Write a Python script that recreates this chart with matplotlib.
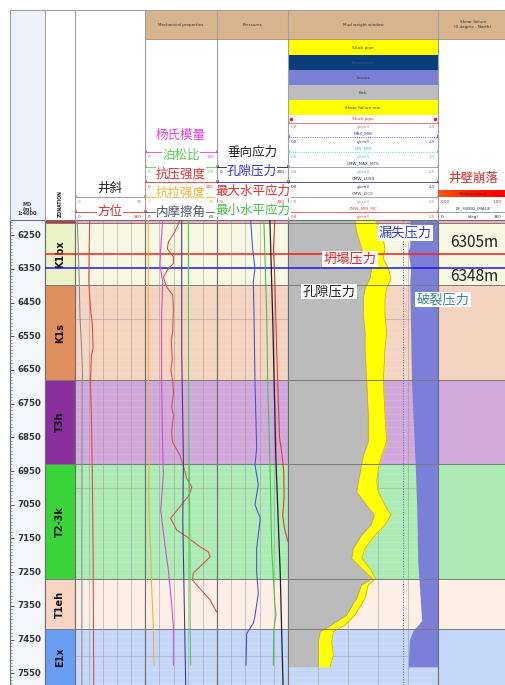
import numpy as np
import matplotlib
matplotlib.use('Agg')
import matplotlib.pyplot as plt
from matplotlib.patches import Rectangle
from matplotlib.colors import LinearSegmentedColormap

plt.rcParams['font.family'] = ['Noto Sans CJK SC', 'DejaVu Sans']

# ---------------- data ----------------
DEPTH_TOP, DEPTH_BOTTOM = 6205, 7585
depth_ticks = [6250, 6350, 6450, 6550, 6650, 6750, 6850, 6950, 7050, 7150, 7250, 7350, 7450, 7550]

zone_names = ['', 'K1bx', 'K1s', 'T3h', 'T2-3k', 'T1eh', 'E1x']
zone_tops = [6205, 6213, 6398, 6680, 6930, 7271, 7419]
zone_bottoms = [6213, 6398, 6680, 6930, 7271, 7419, 7585]
zone_colors = ['#c8344c', '#eaf2c6', '#e0905e', '#8a2e9e', '#38d438', '#f8d4c2', '#6a9ef2']
zone_track_colors = ['#eeb0c0', '#f6f8e2', '#f4d3c0', '#d0a8da', '#aceab6', '#fdeee6', '#c4d7f8']

marker_depths = [6305, 6348]
marker_colors = ['#ff1a1a', '#1a1aee']
marker_labels = ['6305m', '6348m']

# track 1 : trajectory
inc_depth = [6205, 6290, 6388, 6487, 6586, 6665, 6700, 6883, 7180, 7585]
inc_deg = [2.9, 4.2, 5.5, 6.3, 8.5, 9.7, 9.2, 9.0, 8.9, 8.9]
azi_depth = [6205, 6290, 6388, 6468, 6517, 6586, 6606, 6685, 6784, 6982, 7180, 7585]
azi_deg = [76.0, 72.7, 71.0, 79.4, 89.5, 92.9, 84.5, 79.4, 84.5, 89.5, 92.9, 96.3]

# track 2 : mechanical properties
ym_depth = [6205, 6290, 6339, 6388, 6487, 6685, 6883, 6960, 7066, 7165, 7244, 7343, 7412, 7526]
ym_gpa = [24.5, 21.8, 20.8, 24.5, 23.1, 23.1, 24.5, 25.5, 21.8, 27.5, 32.4, 37.0, 39.4, 39.4]
pr_depth = [6205, 6700, 6982, 7180, 7377, 7526]
pr_val = [0.301, 0.303, 0.308, 0.312, 0.313, 0.317]
ucs_depth = [6205, 6240, 6270, 6290, 6314, 6334, 6349, 6374, 6403, 6428,
             6468, 6500, 6537, 6560, 6586, 6620, 6650, 6685, 6720, 6760,
             6784, 6833, 6863, 6903, 6932, 6972, 6997, 7021, 7056, 7090,
             7125, 7145, 7175, 7190, 7205, 7224, 7253, 7274, 7304, 7333, 7368]
ucs_mpa = [97, 83, 65, 62, 79, 79, 65, 51, 60, 77,
           79, 78, 77, 73, 74, 76, 72, 77, 79, 74,
           79, 74, 76, 97, 106, 116, 130, 123, 97, 71,
           88, 116, 153, 176, 181, 162, 134, 132, 157, 181, 199]
ts_depth = [6205, 6685, 6918, 7000, 7090, 7190, 7290, 7410, 7526]
ts_mpa = [2.3, 2.3, 3.0, 2.4, 3.0, 3.9, 4.6, 5.8, 6.25]
fa_depth = [6205, 6600, 6918, 7100, 7300, 7585]
fa_deg = [30.6, 30.6, 32.0, 31.5, 32.5, 33.9]

# track 3 : pressures / stresses (MPa)
sv_depth = [6205, 6500, 6918, 7250, 7585]
sv_mpa = [149, 157, 166, 178, 186]
pp_depth = [6205, 6290, 6349, 6388, 6487, 6685, 6883, 6932, 6990, 7050, 7090, 7180,
            7250, 7313, 7380, 7402, 7432, 7526]
pp_mpa = [94.8, 100.5, 107, 102.3, 104.2, 107, 111.7, 107, 116.4, 107, 122, 111.7,
          111.7, 116.4, 107, 102.3, 83.6, 81.7]
shmax_depth = [6205, 6290, 6388, 6586, 6850, 6900, 6950, 7031, 7081, 7120, 7160]
shmax_mpa = [163, 159, 163, 168, 176, 183, 188, 189, 185, 190, 200]
shmin_depth = [6205, 6487, 6700, 6918, 7180, 7343, 7377, 7420, 7526]
shmin_mpa = [132, 140, 143, 149, 154, 163, 166, 160, 158.7]

# track 4 : mud weight window (g/cm3)
mw_depth = [6205, 6240, 6290, 6319, 6349, 6379, 6408, 6438, 6487, 6537,
            6586, 6685, 6784, 6863, 6903, 6942, 6982, 7012, 7051, 7081,
            7110, 7140, 7180, 7209, 7239, 7269, 7288, 7328, 7377, 7407,
            7427, 7457, 7496, 7531]
kick_sg = [1.559, 1.578, 1.635, 1.692, 1.748, 1.729, 1.673, 1.654, 1.654, 1.673,
           1.673, 1.692, 1.710, 1.710, 1.654, 1.627, 1.597, 1.578, 1.692, 1.778,
           1.741, 1.635, 1.540, 1.522, 1.635, 1.756, 1.635, 1.578, 1.465, 1.295,
           1.163, 1.144, 1.144, 1.144]
collapse_sg = [1.786, 1.862, 1.899, 1.880, 1.937, 1.967, 1.918, 1.899, 1.899, 1.918,
               1.899, 1.880, 1.899, 1.918, 1.862, 1.824, 1.805, 1.824, 1.899, 1.967,
               1.899, 1.786, 1.673, 1.635, 1.729, 1.794, 1.710, 1.673, 1.559, 1.446,
               1.314, 1.295, 1.314, 1.276]
frac_depth = [6205, 6285, 6295, 6349, 6388, 6685, 6918, 7066, 7214, 7393, 7408, 7422, 7452, 7531]
frac_sg = [2.18, 2.18, 2.16, 2.19, 2.18, 2.20, 2.24, 2.26, 2.27, 2.315, 2.27, 2.22, 2.175, 2.163]
max_mw_sg = 2.10
MW_LO, MW_HI = 0.8, 2.5

# ---------------- layout ----------------
W, H = 505, 685
fig = plt.figure(figsize=(W / 100, H / 100), dpi=100)
HDR_TOP, DATA_TOP = 10, 220
X_DEPTH, X_ZONE, X_T1, X_T2, X_T3, X_T4, X_T5, X_END = 10, 45, 75, 145, 217, 288, 438, 505
BORDER = '#6e6e6e'


def add_px_axes(x0, x1, y0, y1, **kw):
    return fig.add_axes([x0 / W, 1 - y1 / H, (x1 - x0) / W, (y1 - y0) / H], **kw)


def base_axes(ax, xlim=(0, 1)):
    ax.set_xlim(*xlim)
    ax.set_ylim(DEPTH_BOTTOM, DEPTH_TOP)
    ax.set_xticks([])
    ax.set_yticks([])
    for s in ['left', 'right', 'top']:
        ax.spines[s].set_color(BORDER)
        ax.spines[s].set_linewidth(0.8)
    ax.spines['bottom'].set_visible(False)


def setup_track(ax, xlim=(0, 1), grid=True):
    base_axes(ax, xlim)
    for t, b, c in zip(zone_tops, zone_bottoms, zone_track_colors):
        ax.axhspan(t, b, color=c, lw=0, zorder=0)
    if grid:
        for d in np.arange(6220, DEPTH_BOTTOM, 20):
            ax.axhline(d, color='white', lw=0.4, alpha=0.22, zorder=1)
        for xg in np.linspace(xlim[0], xlim[1], 6)[1:-1]:
            ax.axvline(xg, color='#8c8c8c', lw=0.5, alpha=0.6, zorder=1)
        for d in [6500, 7000, 7500]:
            ax.axhline(d, color='#9a9a9a', lw=0.5, alpha=0.7, zorder=1)
    for t in zone_tops[1:]:
        ax.axhline(t, color='#7a7a7a', lw=0.7, zorder=4)
    for d, c in zip(marker_depths, marker_colors):
        ax.axhline(d, color=c, lw=1.1, zorder=6)


def curve(ax, values, depths, lo, hi, color, lw=0.75):
    a = ax.twiny()
    a.set_xlim(lo, hi)
    a.axis('off')
    a.plot(values, depths, color=color, lw=lw)
    return a


# depth track
axd = add_px_axes(X_DEPTH, X_ZONE, DATA_TOP, H)
base_axes(axd)
axd.set_facecolor('#f3f6fb')
axd.hlines(np.arange(6210, DEPTH_BOTTOM, 10), 0, 0.06, color='#555555', lw=0.4)
axd.hlines(depth_ticks, 0, 0.12, color='#444444', lw=0.6)
for d in depth_ticks:
    axd.text(0.55, d, str(d), ha='center', va='center', fontsize=6.2,
             weight='bold', color='#333333', family='DejaVu Sans')

# zonation track
axz = add_px_axes(X_ZONE, X_T1, DATA_TOP, H)
base_axes(axz)
for n, t, b, c in zip(zone_names, zone_tops, zone_bottoms, zone_colors):
    axz.axhspan(t, b, color=c, lw=0, zorder=0)
    if n:
        axz.text(0.5, (t + b) / 2, n, rotation=90, ha='center', va='center',
                 fontsize=7, weight='bold', color='#111111', family='DejaVu Sans')
for t in zone_tops[1:]:
    axz.axhline(t, color='#7a7a7a', lw=0.7, zorder=4)
for d, c in zip(marker_depths, marker_colors):
    axz.axhline(d, color=c, lw=1.1, zorder=6)

# track 1
ax1 = add_px_axes(X_T1, X_T2, DATA_TOP, H)
setup_track(ax1)
curve(ax1, inc_deg, inc_depth, 0, 90, '#8a8a8a')
curve(ax1, azi_deg, azi_depth, 0, 360, '#e84040')

# track 2
ax2 = add_px_axes(X_T2, X_T3, DATA_TOP, H)
setup_track(ax2)
curve(ax2, ts_mpa, ts_depth, 0, 50, '#f0b030')
curve(ax2, ym_gpa, ym_depth, 0, 100, '#e040e0')
curve(ax2, ucs_mpa, ucs_depth, 0, 200, '#d85040')
curve(ax2, fa_deg, fa_depth, 0, 60, '#3a3a7a')
curve(ax2, pr_val, pr_depth, 0, 0.5, '#40d040')

# track 3
ax3 = add_px_axes(X_T3, X_T4, DATA_TOP, H)
setup_track(ax3)
curve(ax3, pp_mpa, pp_depth, 0, 200, '#4a4ad8')
curve(ax3, shmin_mpa, shmin_depth, 0, 200, '#40c040')
curve(ax3, sv_mpa, sv_depth, 0, 200, '#222222', lw=0.9)
curve(ax3, shmax_mpa, shmax_depth, 0, 200, '#e83030')

# track 4 : mud weight window
ax4 = add_px_axes(X_T4, X_T5, DATA_TOP, H)
setup_track(ax4, xlim=(MW_LO, MW_HI))
ax4.fill_betweenx(mw_depth, MW_LO, kick_sg, color='#bbbbbb', lw=0, zorder=2)
ax4.fill_betweenx(mw_depth, kick_sg, collapse_sg, color='#ffff00', lw=0, zorder=2)
ax4.plot(kick_sg, mw_depth, color='#c8a040', lw=0.5, zorder=3)
ax4.plot(collapse_sg, mw_depth, color='#c8a040', lw=0.5, zorder=3)
ax4.fill_betweenx(frac_depth, frac_sg, MW_HI, color='#7b7fd8', lw=0, zorder=2)
ax4.axvline(max_mw_sg, color='#6060d0', lw=0.7, ls=':', zorder=3)

# track 5 : shear failure
ax5 = add_px_axes(X_T5, X_END, DATA_TOP, H)
setup_track(ax5, grid=False)
ax5.spines['right'].set_visible(False)
for d, lab, off in zip(marker_depths, marker_labels, [8.3, -5.8]):
    ax5.annotate(lab, xy=(0.54, d), xycoords=('axes fraction', 'data'),
                 xytext=(0, off), textcoords='offset points', ha='center', va='center',
                 fontsize=11, color='#222222', zorder=10)

# ---------------- header (overlay, pixel coordinates) ----------------
ov = fig.add_axes([0, 0, 1, 1], zorder=20)
ov.patch.set_alpha(0)
ov.axis('off')

ov.add_patch(Rectangle((X_DEPTH, HDR_TOP), X_ZONE - X_DEPTH, DATA_TOP - HDR_TOP, fc='#edf2f9', ec='none'))
ov.add_patch(Rectangle((X_T2, HDR_TOP), X_END - X_T2, 29, fc='#d8b48c', ec='none'))
for x in [X_DEPTH, X_ZONE, X_T1, X_T2, X_T3, X_T4, X_T5]:
    ov.plot([x, x], [HDR_TOP, DATA_TOP], color='#a0a0a0', lw=0.8)
ov.plot([X_DEPTH, X_END], [HDR_TOP, HDR_TOP], color='#a0a0a0', lw=0.8)
ov.plot([X_T2, X_END], [39, 39], color='#a08a70', lw=0.6)

tiny = dict(fontsize=3, color='#333333', family='DejaVu Sans', ha='center', va='center')
ov.text(181, 24.5, 'Mechanical properties', **tiny)
ov.text(252.5, 24.5, 'Pressures', **tiny)
ov.text(363, 24.5, 'Mud weight window', **tiny)
ov.text(473, 24.5, 'Shear failure\n(0 degree - North)', linespacing=1.1, **tiny)
ov.text(27.5, 209, 'MD\n(m)\n1:4000', fontsize=3.6, weight='bold', color='#333333',
        family='DejaVu Sans', ha='center', va='center', linespacing=0.95)
ov.text(60, 204, 'ZONATION', rotation=90, fontsize=3.3, weight='bold', color='#222222',
        family='DejaVu Sans', ha='center', va='center')

# mud weight legend boxes
legend_boxes = [('Stuck pipe', '#ffff00', '#444444'), ('Breakdown', '#0b3d7a', '#3a5a90'),
                ('Losses', '#7b80d4', '#333333'), ('Kick', '#bdbdbd', '#333333'),
                ('Shear failure min', '#ffff00', '#444444')]
for i, (name, fc, tc) in enumerate(legend_boxes):
    y0 = 40 + 15 * i
    ov.add_patch(Rectangle((X_T4, y0), X_T5 - X_T4, 15, fc=fc, ec='none'))
    ov.text(363, y0 + 7.5, name, fontsize=3, color=tc, family='DejaVu Sans', ha='center', va='center')


def header_row(x0, x1, y, color, lo, hi, name=None, ls='-', unit=None, name_color=None, show_vals=True):
    ov.plot([x0, x1], [y, y], color=color, lw=0.6, ls=ls)
    ov.plot([x0 + 1, x0 + 1], [y - 2, y], color=color, lw=0.5)
    ov.plot([x1 - 1, x1 - 1], [y - 2, y], color=color, lw=0.5)
    if show_vals:
        ov.text(x0 + 3, y + 4.5, lo, fontsize=3, color=color, family='DejaVu Sans', ha='left', va='center')
        ov.text(x1 - 3, y + 4.5, hi, fontsize=3, color=color, family='DejaVu Sans', ha='right', va='center')
        if unit:
            ov.text((x0 + x1) / 2, y + 4.5, unit, fontsize=3, color=color, family='DejaVu Sans', ha='center', va='center')
    if name:
        ov.text((x0 + x1) / 2, y - 3.5, name, fontsize=3, color=name_color or color,
                family='DejaVu Sans', ha='center', va='center')


# track 1 rows
header_row(X_T1, X_T2, 197, '#909090', '0', '90')
header_row(X_T1, X_T2, 212, '#e03030', '0', '360')
# track 2 rows
header_row(X_T2, X_T3, 152, '#e040e0', '0', '100')
header_row(X_T2, X_T3, 167, '#50d050', '0', '0.5')
header_row(X_T2, X_T3, 182, '#e03030', '0', '200')
header_row(X_T2, X_T3, 197, '#f0b030', '0', '50')
header_row(X_T2, X_T3, 212, '#505070', '0', '60')
# track 3 rows
header_row(X_T3, X_T4, 167, '#222222', '0', '200')
header_row(X_T3, X_T4, 182, '#2a2ad0', '0', '200', show_vals=False)
header_row(X_T3, X_T4, 197, '#e02828', '0', '200')
header_row(X_T3, X_T4, 212, '#40c040', '0', '200', show_vals=False)
# track 4 rows
mw_rows = [(122.7, '#e06a6a', '-', 'Stuck pipe', '#d03030'),
           (137, '#3a3ac8', ':', 'MAX_MW', '#3a3ac8'),
           (152, '#40c8e0', ':', 'MW_MIN', '#40c8e0'),
           (167, '#8a9ab8', '-', 'CMW_MAX_MTS', '#404060'),
           (182, '#34348a', '-', 'CMW_LOSS', '#404060'),
           (197, '#9a9a9a', '-', 'CMW_KICK', '#606060'),
           (212, '#e04a4a', '-', 'CMW_MIN_MC', '#e04a4a')]
for y, c, ls, nm, nc in mw_rows:
    header_row(X_T4, X_T5, y, c, '0.8', '2.5', name=nm, ls=ls, unit='g/cm3', name_color=nc)
ov.plot([291, 435], [118.5, 118.5], ls='none', marker='o', ms=1.6, color='#e02020')

# track 5 header
cmap = LinearSegmentedColormap.from_list('bo', ['#f05a14', '#ff1a00', '#ff0000'])
ov.imshow(np.linspace(0, 1, 64)[None, :], cmap=cmap, aspect='auto',
          extent=(X_T5, X_END, 197, 190), zorder=2)
ov.text(473, 193.5, 'Widebreakout', fontsize=3, color='#552200', family='DejaVu Sans', ha='center', va='center', zorder=3)
ov.text(441, 201.5, '0.00', fontsize=3, color='#b02020', family='DejaVu Sans', ha='left', va='center')
ov.text(502, 201.5, '1.00', fontsize=3, color='#b02020', family='DejaVu Sans', ha='right', va='center')
ov.text(473, 208.5, 'BF_SWBO_IMAGE', fontsize=3, color='#404060', family='DejaVu Sans', ha='center', va='center')
ov.plot([X_T5, X_END], [212, 212], color='#8090b0', lw=0.6)
ov.text(441, 216.5, '0', fontsize=3, color='#333333', family='DejaVu Sans', ha='left', va='center')
ov.text(473, 216.5, '(deg)', fontsize=3, color='#333333', family='DejaVu Sans', ha='center', va='center')
ov.text(502, 216.5, '360', fontsize=3, color='#333333', family='DejaVu Sans', ha='right', va='center')

# big Chinese header labels
hdr_labels = [('井斜', 110, 188, '#222222'), ('方位', 110, 211, '#e02828'),
              ('杨氏模量', 181, 135, '#e040e0'), ('泊松比', 181, 155, '#50d050'),
              ('抗压强度', 181, 174, '#e03030'), ('抗拉强度', 181, 193, '#f0b030'),
              ('内摩擦角', 181, 212, '#505070'), ('垂向应力', 252, 152, '#222222'),
              ('孔隙压力', 252, 171, '#2a2ad0'), ('最大水平应力', 253, 191, '#e02828'),
              ('最小水平应力', 253, 210, '#40c040'), ('井壁崩落', 473, 178, '#e02828')]
for txt, x, y, c in hdr_labels:
    ov.text(x, y, txt, fontsize=9, color=c, ha='center', va='center',
            bbox=dict(facecolor='white', edgecolor='none', pad=0.3), zorder=5)

# annotation labels in the data area
data_labels = [('漏失压力', 405, 233, '#3040d0'), ('坍塌压力', 350, 259, '#e02020'),
               ('孔隙压力', 329, 291.5, '#222222'), ('破裂压力', 443, 299.5, '#3a8a9a')]
for txt, x, y, c in data_labels:
    ov.text(x, y, txt, fontsize=9.5, color=c, ha='center', va='center',
            bbox=dict(facecolor='white', edgecolor='none', pad=1.0), zorder=5)

ov.set_xlim(0, W)
ov.set_ylim(H, 0)

fig.savefig('out.png', dpi=100)
